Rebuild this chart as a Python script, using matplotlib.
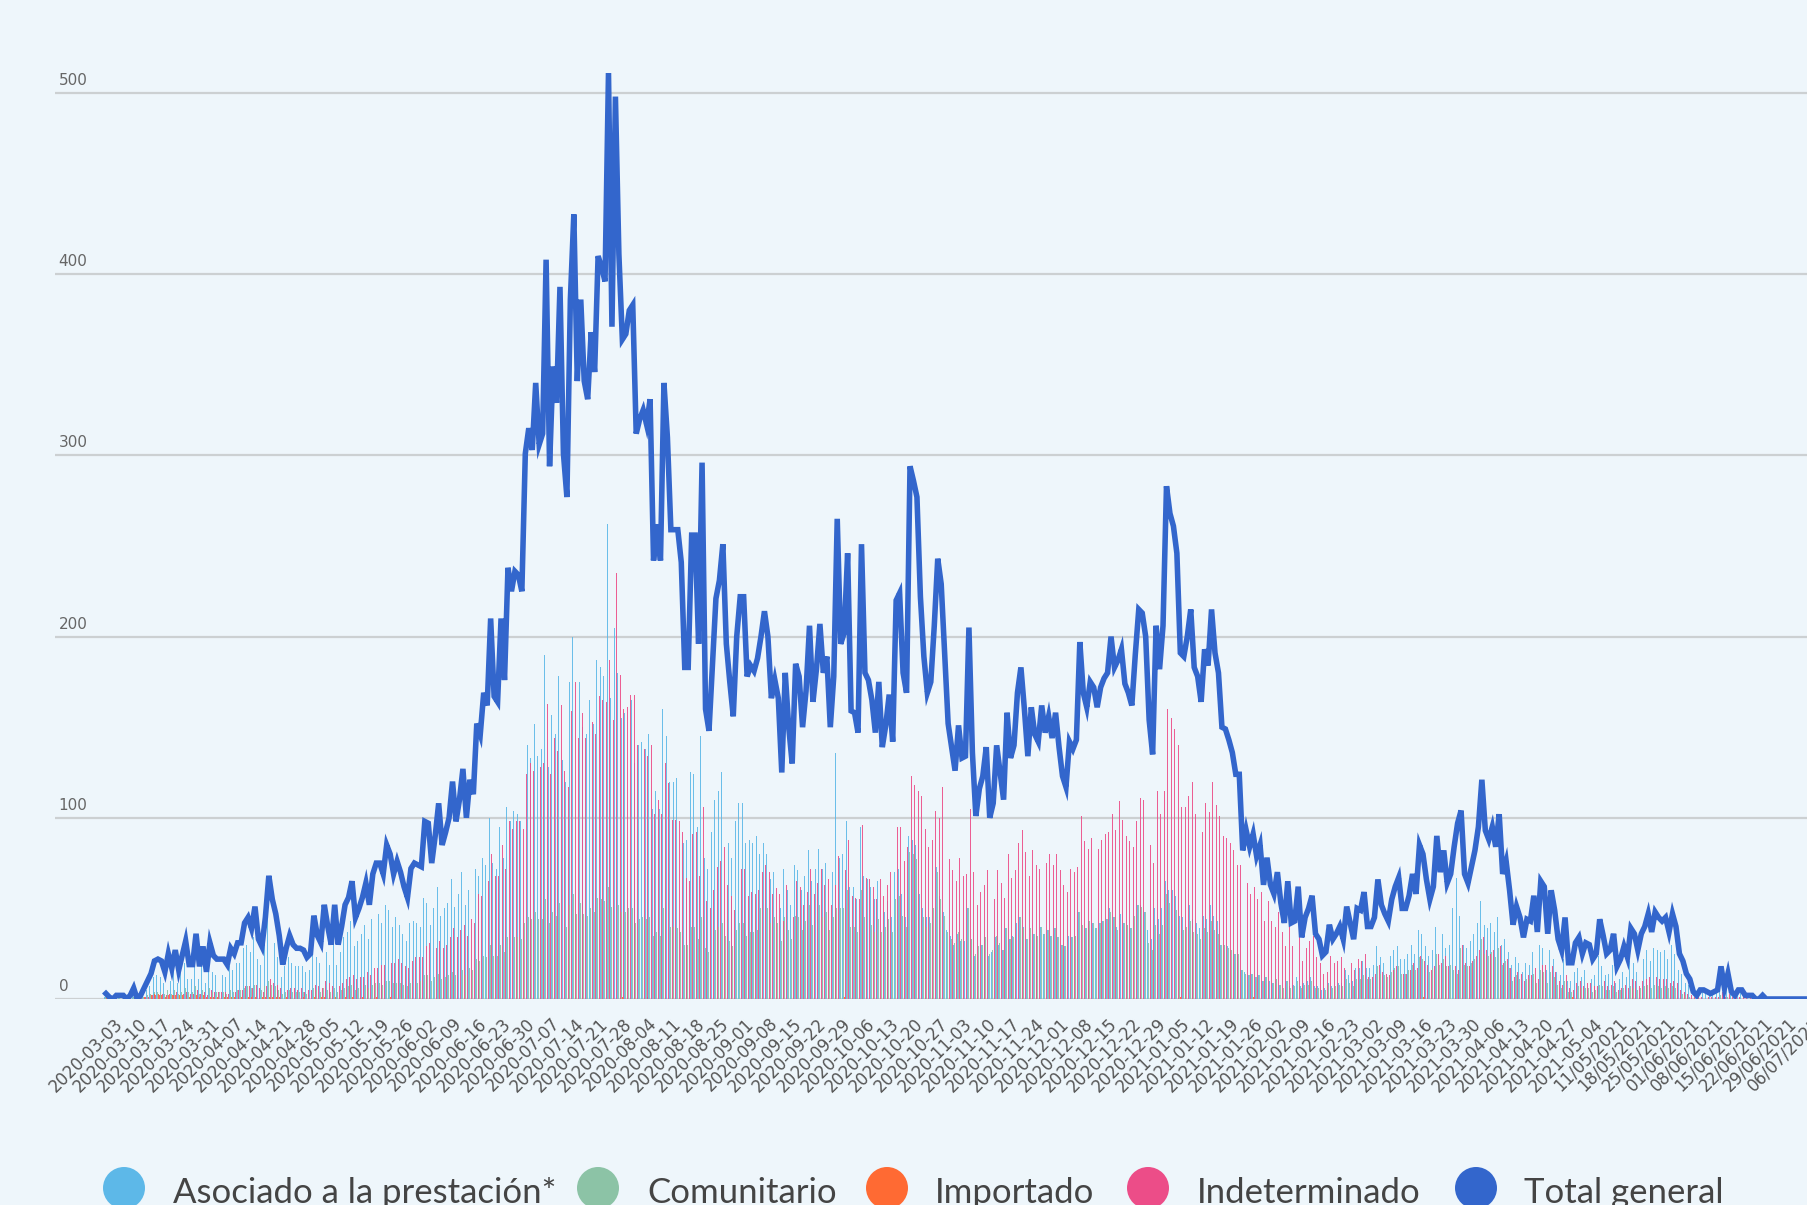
import matplotlib
matplotlib.use("Agg")
import matplotlib.pyplot as plt
import matplotlib.dates as mdates
from matplotlib.patches import Ellipse
from matplotlib.transforms import ScaledTranslation, blended_transform_factory
import pandas as pd

# daily counts from 2020-03-03, one row per week
total_general = [
    3, 1, 0, 2, 2, 2, 0,
    2, 6, 0, 2, 6, 10, 14,
    21, 22, 21, 15, 25, 17, 27,
    16, 24, 32, 19, 19, 36, 18,
    29, 15, 31, 24, 22, 22, 22,
    19, 28, 25, 31, 31, 42, 45,
    39, 51, 33, 29, 45, 68, 55,
    47, 35, 19, 28, 35, 30, 28,
    28, 27, 23, 25, 46, 35, 31,
    52, 40, 30, 52, 30, 40, 52,
    56, 65, 45, 50, 56, 64, 52,
    69, 75, 75, 69, 85, 80, 69,
    76, 70, 62, 56, 72, 75, 74,
    73, 98, 97, 75, 90, 108, 85,
    92, 100, 120, 98, 110, 127, 100,
    121, 113, 152, 146, 169, 162, 210,
    167, 164, 210, 176, 238, 225, 236,
    234, 225, 301, 315, 303, 340, 306,
    312, 408, 294, 349, 329, 393, 301,
    277, 386, 433, 341, 386, 341, 331,
    368, 346, 410, 404, 396, 511, 371,
    498, 411, 364, 367, 380, 383, 312,
    320, 325, 317, 331, 242, 262, 242,
    340, 310, 259, 259, 259, 241, 183,
    183, 256, 256, 196, 296, 160, 148,
    185, 221, 231, 251, 196, 175, 156,
    200, 222, 222, 178, 184, 181, 188,
    200, 214, 200, 166, 176, 166, 125,
    180, 150, 130, 185, 178, 150, 170,
    206, 164, 182, 207, 180, 189, 150,
    178, 265, 196, 202, 246, 159, 158,
    147, 251, 180, 176, 165, 147, 175,
    139, 151, 168, 142, 220, 224, 180,
    169, 294, 286, 277, 222, 189, 169,
    175, 206, 243, 229, 191, 152, 139,
    126, 151, 133, 134, 205, 136, 101,
    116, 123, 139, 100, 108, 140, 125,
    110, 158, 133, 140, 169, 183, 160,
    134, 161, 146, 142, 162, 147, 156,
    144, 158, 139, 123, 117, 142, 138,
    143, 197, 169, 161, 175, 172, 161,
    172, 177, 180, 200, 183, 187, 193,
    174, 169, 162, 190, 215, 213, 200,
    154, 135, 206, 182, 206, 283, 268,
    261, 246, 191, 189, 200, 215, 183,
    178, 164, 193, 184, 215, 191, 180,
    150, 149, 143, 136, 124, 124, 82,
    93, 84, 91, 79, 85, 63, 78,
    63, 58, 70, 53, 42, 65, 42,
    43, 62, 34, 45, 50, 57, 36,
    33, 24, 26, 41, 33, 36, 40,
    33, 51, 42, 33, 50, 49, 59,
    40, 40, 45, 66, 52, 47, 43,
    55, 62, 67, 50, 50, 57, 69,
    58, 85, 80, 66, 55, 62, 90,
    70, 82, 64, 69, 84, 97, 104,
    69, 64, 73, 82, 95, 121, 93,
    88, 95, 84, 102, 69, 76, 60,
    41, 51, 45, 34, 44, 43, 57,
    37, 65, 62, 36, 60, 49, 33,
    27, 45, 20, 20, 31, 34, 25,
    31, 30, 22, 25, 44, 35, 25,
    27, 36, 18, 22, 29, 23, 39,
    36, 27, 36, 40, 47, 37, 48,
    45, 43, 45, 37, 47, 40, 25,
    21, 14, 11, 4, 2, 5, 5,
    4, 3, 4, 5, 18, 6, 14,
    4, 2, 5, 5, 2, 2, 2,
    0, 0, 2, 0, 0, 0, 0,
    0, 0, 0, 0, 0, 0, 0,
    0,
]

asociado = [
    1, 0, 0, 1, 1, 1, 0,
    1, 3, 0, 1, 3, 5, 7,
    12, 13, 12, 9, 15, 10, 16,
    9, 15, 20, 11, 11, 22, 11,
    18, 9, 19, 15, 13, 14, 13,
    12, 18, 16, 20, 20, 28, 30,
    26, 34, 22, 19, 30, 46, 37,
    31, 23, 12, 18, 23, 20, 18,
    18, 18, 15, 16, 31, 23, 20,
    35, 26, 19, 34, 19, 26, 34,
    37, 43, 29, 32, 36, 41, 33,
    44, 48, 47, 42, 52, 49, 40,
    45, 41, 36, 32, 42, 43, 42,
    40, 56, 53, 41, 50, 62, 46,
    50, 53, 66, 51, 58, 70, 52,
    60, 55, 72, 68, 78, 74, 100,
    75, 72, 95, 78, 106, 98, 104,
    102, 98, 135, 140, 133, 152, 134,
    138, 190, 128, 157, 146, 178, 132,
    120, 175, 200, 150, 175, 150, 146,
    165, 152, 187, 183, 178, 262, 166,
    205, 180, 155, 158, 162, 165, 130,
    140, 142, 138, 146, 105, 115, 105,
    160, 145, 120, 120, 122, 112, 86,
    88, 125, 124, 95, 145, 78, 72,
    92, 110, 115, 125, 98, 86, 78,
    98, 108, 108, 86, 88, 86, 90,
    80, 86, 80, 66, 70, 66, 50,
    72, 60, 52, 74, 71, 60, 68,
    82, 65, 72, 83, 72, 75, 60,
    70, 136, 78, 80, 98, 62, 62,
    55, 95, 68, 66, 62, 55, 65,
    45, 48, 54, 45, 70, 72, 58,
    45, 90, 88, 85, 58, 50, 45,
    45, 52, 73, 57, 48, 38, 35,
    30, 36, 32, 32, 50, 33, 24,
    28, 30, 34, 24, 26, 34, 30,
    27, 39, 33, 35, 42, 45, 40,
    33, 40, 36, 35, 40, 36, 38,
    35, 39, 34, 30, 29, 35, 34,
    35, 48, 41, 39, 43, 42, 39,
    42, 43, 44, 50, 45, 40, 47,
    42, 41, 39, 46, 52, 52, 48,
    38, 33, 50, 44, 50, 65, 60,
    60, 57, 46, 45, 48, 52, 44,
    42, 39, 46, 44, 52, 46, 43,
    30, 30, 29, 27, 25, 25, 16,
    15, 13, 14, 12, 13, 10, 12,
    10, 9, 11, 8, 7, 10, 7,
    8, 12, 7, 9, 10, 12, 7,
    7, 5, 6, 9, 7, 8, 9,
    9, 16, 13, 10, 17, 17, 21,
    17, 17, 19, 29, 23, 20, 18,
    24, 27, 29, 22, 22, 25, 30,
    25, 38, 36, 29, 24, 27, 40,
    31, 36, 28, 30, 50, 67, 46,
    30, 28, 32, 36, 42, 54, 41,
    39, 42, 37, 45, 30, 33, 26,
    19, 23, 20, 15, 20, 19, 26,
    17, 30, 28, 16, 27, 22, 15,
    13, 22, 10, 10, 15, 17, 12,
    16, 15, 11, 13, 24, 18, 13,
    14, 19, 9, 11, 15, 12, 21,
    20, 15, 20, 22, 27, 21, 28,
    27, 26, 27, 22, 30, 25, 16,
    14, 9, 8, 3, 1, 4, 4,
    3, 2, 3, 4, 12, 4, 10,
    3, 1, 4, 4, 1, 1, 1,
    0, 0, 1, 0, 0, 0, 0,
    0, 0, 0, 0, 0, 0, 0,
    0,
]

comunitario = [
    1, 0, 0, 0, 1, 0, 0,
    0, 1, 0, 0, 1, 2, 3,
    4, 4, 4, 3, 5, 3, 5,
    3, 4, 6, 4, 4, 7, 3,
    5, 3, 6, 4, 4, 4, 4,
    3, 5, 4, 5, 5, 6, 7,
    6, 8, 5, 5, 7, 10, 8,
    7, 5, 3, 4, 5, 4, 4,
    4, 4, 3, 4, 6, 5, 4,
    6, 5, 4, 6, 4, 5, 6,
    7, 8, 5, 6, 7, 8, 6,
    8, 9, 9, 8, 10, 10, 9,
    9, 9, 8, 7, 9, 9, 9,
    10, 13, 13, 10, 12, 14, 11,
    12, 13, 15, 13, 14, 16, 13,
    17, 16, 22, 21, 24, 23, 30,
    24, 24, 30, 26, 34, 33, 34,
    34, 33, 42, 45, 44, 48, 44,
    44, 55, 42, 48, 46, 53, 43,
    40, 52, 58, 47, 53, 47, 46,
    50, 48, 56, 55, 54, 62, 51,
    58, 52, 48, 48, 50, 50, 42,
    44, 45, 44, 45, 35, 37, 35,
    50, 46, 40, 40, 39, 37, 30,
    30, 40, 40, 33, 45, 28, 26,
    33, 38, 40, 42, 35, 32, 29,
    38, 42, 42, 35, 37, 37, 38,
    50, 54, 50, 42, 45, 42, 32,
    45, 38, 33, 46, 45, 38, 43,
    52, 41, 46, 52, 45, 48, 38,
    45, 50, 50, 50, 60, 40, 40,
    37, 60, 45, 44, 41, 37, 44,
    37, 40, 44, 37, 55, 57, 46,
    40, 81, 80, 77, 52, 45, 40,
    42, 50, 70, 55, 46, 37, 33,
    31, 37, 33, 33, 50, 33, 25,
    29, 30, 34, 25, 27, 35, 31,
    27, 39, 33, 34, 41, 45, 39,
    33, 39, 36, 35, 40, 36, 38,
    35, 39, 34, 30, 29, 35, 34,
    35, 48, 41, 39, 43, 42, 39,
    42, 43, 44, 48, 45, 38, 47,
    42, 41, 39, 46, 52, 51, 48,
    31, 27, 41, 36, 41, 58, 53,
    52, 49, 38, 38, 40, 43, 37,
    36, 33, 39, 37, 43, 38, 36,
    30, 30, 28, 27, 25, 25, 16,
    14, 13, 14, 12, 13, 10, 12,
    10, 9, 11, 8, 6, 10, 6,
    7, 10, 6, 8, 8, 10, 6,
    6, 5, 5, 8, 6, 7, 8,
    7, 11, 9, 7, 11, 11, 13,
    11, 11, 12, 18, 14, 13, 12,
    15, 17, 18, 14, 14, 16, 19,
    16, 23, 22, 18, 15, 17, 25,
    19, 22, 18, 19, 16, 14, 28,
    19, 18, 20, 22, 26, 33, 25,
    24, 26, 23, 28, 19, 21, 17,
    10, 13, 11, 9, 11, 11, 14,
    9, 16, 15, 9, 15, 12, 8,
    6, 10, 4, 4, 7, 7, 6,
    6, 6, 4, 5, 8, 7, 5,
    5, 7, 4, 5, 6, 5, 7,
    6, 5, 6, 7, 8, 6, 8,
    7, 6, 7, 6, 7, 6, 4,
    3, 2, 1, 0, 0, 0, 0,
    0, 0, 0, 0, 2, 1, 1,
    0, 0, 0, 0, 0, 0, 0,
    0, 0, 0, 0, 0, 0, 0,
    0, 0, 0, 0, 0, 0, 0,
    0,
]

importado = [
    1, 1, 0, 1, 0, 1, 0,
    1, 1, 0, 1, 1, 2, 2,
    3, 3, 2, 1, 2, 2, 2,
    2, 2, 2, 1, 1, 2, 1,
    2, 1, 1, 1, 1, 0, 1,
    1, 1, 1, 1, 1, 1, 1,
    1, 1, 0, 1, 1, 1, 1,
    1, 1, 0, 1, 1, 0, 1,
    0, 1, 0, 0, 1, 0, 1,
    1, 0, 0, 1, 0, 0, 1,
    0, 1, 0, 0, 1, 0, 0,
    0, 1, 0, 0, 0, 1, 0,
    0, 0, 0, 0, 0, 0, 0,
    0, 0, 0, 0, 0, 0, 0,
    0, 0, 0, 0, 0, 0, 0,
    0, 0, 0, 0, 0, 0, 0,
    0, 0, 0, 0, 0, 0, 0,
    0, 0, 0, 0, 0, 0, 0,
    0, 0, 0, 0, 0, 0, 0,
    0, 0, 0, 0, 0, 0, 0,
    0, 0, 0, 1, 0, 0, 0,
    0, 0, 1, 0, 0, 0, 0,
    0, 0, 1, 0, 0, 0, 0,
    0, 0, 0, 0, 0, 0, 0,
    0, 0, 0, 0, 0, 0, 0,
    0, 0, 0, 0, 0, 0, 0,
    0, 0, 0, 0, 0, 0, 0,
    0, 0, 0, 0, 0, 0, 0,
    0, 0, 0, 0, 0, 0, 0,
    0, 0, 0, 0, 0, 0, 0,
    0, 0, 0, 1, 0, 0, 0,
    0, 0, 0, 0, 0, 0, 0,
    0, 0, 0, 0, 0, 0, 0,
    0, 0, 0, 0, 0, 0, 0,
    0, 0, 0, 0, 0, 0, 0,
    0, 0, 0, 0, 0, 0, 0,
    0, 0, 0, 0, 0, 0, 0,
    0, 0, 0, 0, 0, 0, 0,
    0, 0, 0, 0, 0, 0, 0,
    0, 0, 0, 0, 0, 0, 0,
    0, 0, 0, 0, 0, 0, 0,
    0, 0, 0, 0, 0, 0, 0,
    0, 0, 0, 0, 0, 0, 0,
    0, 0, 0, 0, 0, 0, 0,
    0, 0, 1, 0, 0, 0, 0,
    0, 0, 0, 0, 0, 0, 0,
    0, 0, 0, 0, 0, 0, 0,
    0, 0, 1, 0, 0, 0, 0,
    0, 0, 0, 0, 0, 0, 0,
    0, 0, 0, 0, 0, 0, 0,
    0, 0, 0, 0, 0, 0, 0,
    0, 0, 0, 0, 0, 0, 0,
    0, 0, 0, 0, 0, 0, 0,
    0, 0, 0, 0, 0, 0, 0,
    0, 0, 1, 0, 0, 0, 0,
    0, 0, 0, 0, 0, 0, 0,
    0, 0, 0, 0, 0, 0, 0,
    0, 0, 0, 0, 0, 0, 0,
    0, 0, 0, 0, 0, 0, 0,
    0, 0, 0, 0, 0, 0, 0,
    0, 0, 0, 1, 0, 0, 0,
    0, 0, 0, 0, 0, 0, 0,
    0, 0, 0, 0, 0, 0, 0,
    0, 0, 0, 0, 0, 0, 0,
    0, 0, 0, 0, 0, 0, 0,
    0, 0, 0, 0, 0, 0, 0,
    0, 0, 0, 0, 0, 0, 0,
    0, 0, 0, 0, 0, 0, 0,
    0, 0, 0, 0, 0, 0, 0,
    0, 0, 0, 0, 0, 0, 0,
    0,
]

indeterminado = [
    0, 0, 0, 0, 0, 0, 0,
    0, 1, 0, 0, 1, 1, 2,
    2, 2, 3, 2, 3, 2, 4,
    2, 3, 4, 3, 3, 5, 3,
    4, 2, 5, 4, 4, 4, 4,
    3, 4, 4, 5, 5, 7, 7,
    6, 8, 6, 4, 7, 11, 9,
    8, 6, 4, 5, 6, 6, 5,
    6, 4, 5, 5, 8, 7, 6,
    10, 9, 7, 11, 7, 9, 11,
    12, 13, 11, 12, 12, 15, 13,
    17, 17, 19, 19, 23, 20, 20,
    22, 20, 18, 17, 21, 23, 23,
    23, 29, 31, 24, 28, 32, 28,
    30, 34, 39, 34, 38, 41, 35,
    44, 42, 58, 57, 67, 65, 80,
    68, 68, 85, 72, 98, 94, 98,
    98, 94, 124, 130, 126, 140, 128,
    130, 163, 124, 144, 137, 162, 126,
    117, 159, 175, 144, 158, 144, 139,
    153, 146, 167, 165, 164, 187, 154,
    235, 179, 160, 161, 168, 168, 140,
    136, 138, 134, 140, 102, 110, 102,
    130, 119, 99, 99, 98, 92, 67,
    65, 91, 92, 68, 106, 54, 50,
    60, 73, 76, 84, 63, 57, 49,
    64, 72, 72, 57, 59, 58, 60,
    70, 74, 70, 58, 61, 58, 43,
    63, 52, 45, 65, 62, 52, 59,
    72, 58, 64, 72, 63, 66, 52,
    63, 79, 68, 71, 88, 57, 56,
    55, 96, 67, 66, 62, 55, 66,
    57, 63, 70, 60, 95, 95, 76,
    84, 123, 118, 115, 112, 94, 84,
    88, 104, 100, 117, 97, 77, 71,
    65, 78, 68, 69, 105, 70, 52,
    59, 63, 71, 51, 55, 71, 64,
    56, 80, 67, 71, 86, 93, 81,
    68, 82, 74, 72, 82, 75, 80,
    74, 80, 71, 63, 59, 72, 70,
    73, 101, 87, 83, 89, 88, 83,
    88, 91, 92, 102, 93, 109, 99,
    90, 87, 84, 98, 111, 110, 104,
    85, 75, 115, 102, 115, 160, 155,
    149, 140, 106, 106, 112, 120, 102,
    100, 92, 108, 103, 120, 107, 101,
    90, 89, 86, 82, 74, 74, 50,
    64, 58, 62, 55, 59, 43, 54,
    43, 40, 48, 37, 29, 45, 29,
    28, 40, 21, 28, 32, 35, 23,
    20, 14, 15, 24, 20, 21, 23,
    17, 24, 20, 16, 22, 21, 25,
    12, 12, 14, 19, 15, 14, 13,
    16, 18, 20, 14, 14, 16, 20,
    17, 24, 21, 19, 16, 18, 25,
    20, 24, 18, 20, 18, 16, 30,
    20, 18, 21, 24, 27, 34, 27,
    25, 27, 24, 29, 20, 22, 17,
    12, 15, 14, 10, 13, 13, 17,
    11, 19, 19, 11, 18, 15, 10,
    8, 13, 6, 5, 9, 10, 7,
    9, 9, 7, 7, 12, 10, 7,
    8, 10, 5, 6, 8, 6, 11,
    10, 7, 10, 11, 12, 10, 12,
    11, 11, 11, 9, 10, 9, 5,
    4, 3, 2, 1, 1, 1, 1,
    1, 1, 1, 1, 4, 1, 3,
    1, 1, 1, 1, 1, 1, 1,
    0, 0, 1, 0, 0, 0, 0,
    0, 0, 0, 0, 0, 0, 0,
    0,
]

series_names = ["Asociado a la prestación*", "Comunitario", "Importado",
                "Indeterminado", "Total general"]
series_colors = ["#5DB8E8", "#8CC3A6", "#FF6A33", "#EC4D88", "#3366CC"]
y_ticks = [0, 100, 200, 300, 400, 500]

dates = pd.date_range("2020-03-03", periods=len(total_general), freq="D")
x = mdates.date2num(dates)
tick_dates = dates[::7]
tick_labels = [d.strftime("%Y-%m-%d") if d < pd.Timestamp("2021-05-11")
               else d.strftime("%d/%m/%Y") for d in tick_dates]

bg = "#EEF6FB"
W, H = 1808, 1205
fig = plt.figure(figsize=(W / 100, H / 100), dpi=100, facecolor=bg)
ax = fig.add_axes([55 / W, (H - 999) / H, 1 - 55 / W, 978.5 / H])
ax.set_facecolor(bg)

bar_w = 0.27
bar_sets = [asociado, comunitario, importado, indeterminado]
offsets = [-0.375, -0.125, 0.125, 0.375]
for vals, col, off in zip(bar_sets, series_colors[:4], offsets):
    ax.bar(x + off, vals, width=bar_w, color=col, alpha=0.9,
           linewidth=0, zorder=2)

ax.plot(x, total_general, color=series_colors[4], lw=4.0,
        solid_joinstyle="miter", zorder=4)

ax.set_xlim(x[0] - 14.7, x[0] + 491.1)
ax.set_ylim(0, 540)
ax.set_yticks(y_ticks)
ax.set_yticklabels([])
ax.grid(axis="y", color="#CCD0D2", lw=1.6, zorder=1)
ax.set_axisbelow(True)
for s in ax.spines.values():
    s.set_visible(False)
ax.tick_params(axis="y", length=0)

trans = blended_transform_factory(ax.transAxes, ax.transData)
for v in y_ticks:
    ax.text(0.002, v, str(v), transform=trans, fontsize=11, color="#666666",
            ha="left", va="bottom",
            ).set_transform(trans + ScaledTranslation(0, 5 / 100, fig.dpi_scale_trans))

ax.set_xticks(mdates.date2num(tick_dates))
ax.set_xticklabels(tick_labels, rotation=45, ha="right", va="center",
                   rotation_mode="anchor", fontsize=12, color="#555555")
ax.tick_params(axis="x", length=0, pad=0)
shift = ScaledTranslation(14 / 100, -22 / 100, fig.dpi_scale_trans)
for lab in ax.get_xticklabels():
    lab.set_transform(lab.get_transform() + shift)

# legend along the bottom edge
circle_x = [124, 598, 887, 1148, 1476]
text_x = [173, 647, 935, 1197, 1524]
for cx, tx, name, col in zip(circle_x, text_x, series_names, series_colors):
    fig.add_artist(Ellipse((cx / W, 1 - 1188 / H), 42 / W, 42 / H,
                           transform=fig.transFigure, color=col, lw=0))
    fig.text(tx / W, 1 - 1203 / H, name, fontsize=25, family="Lato",
             color="#444444", ha="left", va="baseline")

fig.savefig("out.png", dpi=100, facecolor=bg)
